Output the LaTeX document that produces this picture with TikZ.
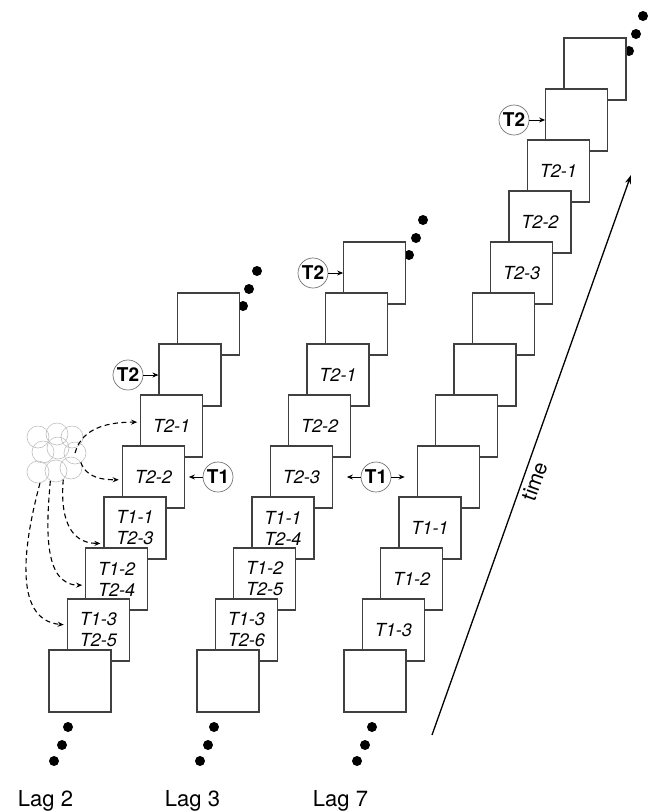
\documentclass[tikz,border=0pt]{standalone}
\usepackage{fontspec}
\setmainfont{TeX Gyre Heros}
\usetikzlibrary{arrows.meta}

\begin{document}
\begin{tikzpicture}[x=1pt, y=1pt,
			quadro/.style={draw=black!75, line width=1.1pt, fill=white, rectangle, minimum size=62pt, inner sep=0pt, align=center, font=\fontsize{18}{21}\selectfont\itshape},
			alvo/.style={draw=black!55, line width=0.7pt, circle, minimum size=30pt, inner sep=0pt, font=\fontsize{19}{21}\selectfont\bfseries},
			bolha/.style={draw=black!25, line width=0.6pt, circle, minimum size=22pt, inner sep=0pt},
			seta/.style={-{Stealth[length=6pt, width=5pt]}, line width=1pt},
			seta_tr/.style={-{Stealth[length=6pt, width=5pt]}, line width=1.1pt, dash pattern=on 5pt off 3.5pt, shorten >=3pt},
			seta_tempo/.style={-{Stealth[length=9pt, width=6pt]}, line width=1.3pt},
			rotulo/.style={font=\fontsize{22}{26}\selectfont, anchor=base}
			]
			
			\useasboundingbox (0,0) rectangle (649,-812);
			
			% Reticências (atrás dos quadros)
			\fill (257,-271) circle (5pt) (249,-289) circle (5pt) (243,-306) circle (5pt);
			\fill (423,-220) circle (5pt) (416,-238) circle (5pt) (409,-255) circle (5pt);
			\fill (643,-16) circle (5pt) (636,-34) circle (5pt) (629,-51) circle (5pt);
			\fill (68,-727) circle (5pt) (62,-745) circle (5pt) (54,-761) circle (5pt);
			\fill (214,-727) circle (5pt) (208,-745) circle (5pt) (200,-761) circle (5pt);
			\fill (372,-727) circle (5pt) (365,-745) circle (5pt) (357,-761) circle (5pt);
			
			% Coluna 1: Lag 2
			\node[quadro] (lag2_7) at (208.3,-324) {};
			\node[quadro] (lag2_6) at (190,-375)   {};
			\node[quadro] (lag2_5) at (171.7,-426) {T2-1};
			\node[quadro] (lag2_4) at (153.3,-477) {T2-2};
			\node[quadro] (lag2_3) at (135,-528)   {T1-1\\T2-3};
			\node[quadro] (lag2_2) at (116.7,-579) {T1-2\\T2-4};
			\node[quadro] (lag2_1) at (98.3,-630)  {T1-3\\T2-5};
			\node[quadro] (lag2_0) at (80,-681)    {};
			
			% Coluna 2: Lag 3
			\node[quadro] (lag3_8) at (374.7,-273) {};
			\node[quadro] (lag3_7) at (356.3,-324) {};
			\node[quadro] (lag3_6) at (338,-375)   {T2-1};
			\node[quadro] (lag3_5) at (319.7,-426) {T2-2};
			\node[quadro] (lag3_4) at (301.3,-477) {T2-3};
			\node[quadro] (lag3_3) at (283,-528)   {T1-1\\T2-4};
			\node[quadro] (lag3_2) at (264.7,-579) {T1-2\\T2-5};
			\node[quadro] (lag3_1) at (246.3,-630) {T1-3\\T2-6};
			\node[quadro] (lag3_0) at (228,-681)   {};
			
			% Coluna 3: Lag 7
			\node[quadro] (lag7_12) at (595,-69)    {};
			\node[quadro] (lag7_11) at (576.7,-120) {};
			\node[quadro] (lag7_10) at (558.3,-171) {T2-1};
			\node[quadro] (lag7_9)  at (540,-222)   {T2-2};
			\node[quadro] (lag7_8)  at (521.7,-273) {T2-3};
			\node[quadro] (lag7_7)  at (503.3,-324) {};
			\node[quadro] (lag7_6)  at (485,-375)   {};
			\node[quadro] (lag7_5)  at (466.7,-426) {};
			\node[quadro] (lag7_4)  at (448.3,-477) {};
			\node[quadro] (lag7_3)  at (430,-528)   {T1-1};
			\node[quadro] (lag7_2)  at (411.7,-579) {T1-2};
			\node[quadro] (lag7_1)  at (393.3,-630) {T1-3};
			\node[quadro] (lag7_0)  at (375,-681)   {};
			
			% Alvos T1 / T2
			\node[alvo] (t2_lag2) at (128,-375) {T2};
			\node[alvo] (t1_lag2) at (218,-477) {T1};
			\node[alvo] (t2_lag3) at (313,-273) {T2};
			\node[alvo] (t1_meio) at (376,-477) {T1};
			\node[alvo] (t2_lag7) at (514,-120) {T2};
			
			% Nuvem de bolhas
			\node[bolha] (blob1) at (38,-437) {};
			\node[bolha] (blob2) at (57,-434) {};
			\node[bolha] (blob3) at (72,-437) {};
			\node[bolha] (blob4) at (43,-452) {};
			\node[bolha] (blob5) at (58,-448) {};
			\node[bolha] (blob6) at (75,-453) {};
			\node[bolha] (blob7) at (38,-472) {};
			\node[bolha] (blob8) at (56,-471) {};
			\node[bolha] (blob9) at (71,-468) {};
			
			% Eixo do tempo
			\coordinate (tempo_ini) at (432,-735);
			\coordinate (tempo_fim) at (631,-175);
			
			% Rótulos
			\node[rotulo] (rot_lag2) at (45.5,-806)  {Lag 2};
			\node[rotulo] (rot_lag3) at (192.5,-806) {Lag 3};
			\node[rotulo] (rot_lag7) at (340.5,-806) {Lag 7};
			
			% Conexões / Setas
			\draw[seta] (t2_lag2) -- (lag2_6.west);
			\draw[seta, shorten >=4pt] (t1_lag2) -- (lag2_4.east);
			\draw[seta] (t2_lag3) -- (lag3_8.west);
			\draw[seta, shorten >=14pt] (t1_meio) -- (lag3_4.east);
			\draw[seta, shorten >=12pt] (t1_meio) -- (lag7_4.west);
			\draw[seta] (t2_lag7) -- (lag7_11.west);
			
			\draw[seta_tr] (blob6.center) to[out=75, in=180] (lag2_5.173);
			\draw[seta_tr] (blob9.30) to[out=-70, in=180] (lag2_4.185);
			\draw[seta_tr] (blob8.-50) to[out=-95, in=180, looseness=1.2] (lag2_3.206);
			\draw[seta_tr] (blob8.-120) to[out=-95, in=180] (lag2_2.191);
			\draw[seta_tr] (blob7.-80) to[out=-105, in=175] (lag2_1.171);
			
			\draw[seta_tempo] (tempo_ini) -- node[pos=0.46, sloped, below, font=\fontsize{21}{24}\selectfont] {time} (tempo_fim);
			
		\end{tikzpicture}
\end{document}
